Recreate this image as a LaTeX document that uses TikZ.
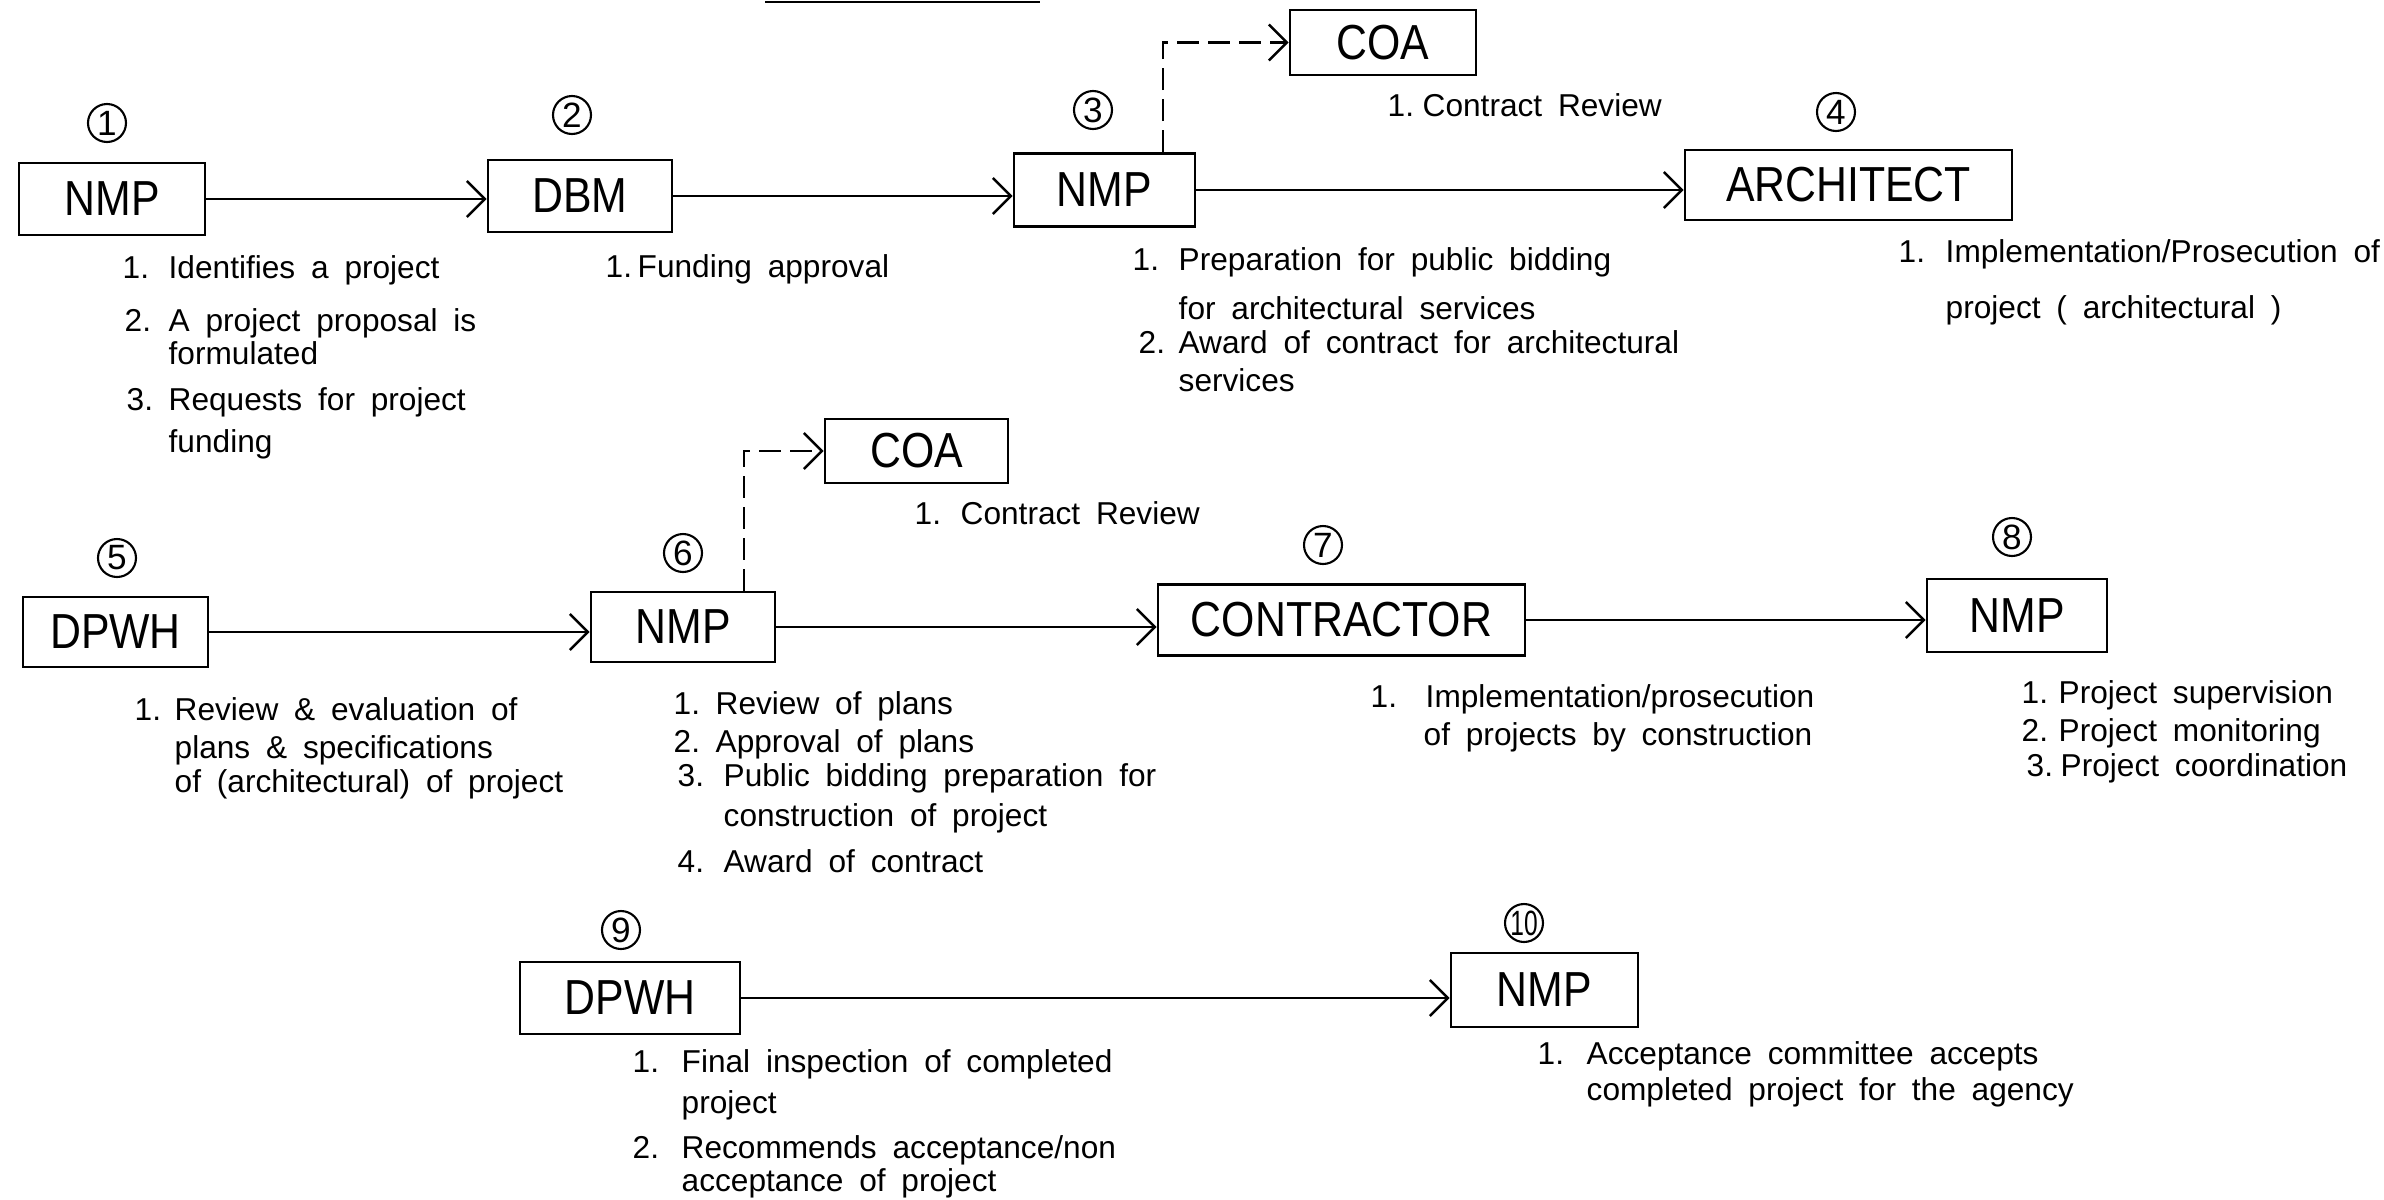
\documentclass[tikz,border=0pt]{standalone}
\usepackage{fontspec}
\setmainfont{Liberation Sans}
\newfontfamily\boxfont[FakeStretch=0.87]{Liberation Sans}
\newfontfamily\narrowfont[FakeStretch=0.7]{Liberation Sans}
\usetikzlibrary{arrows.meta}
\newcommand\bodytxt{\fontsize{9}{11}\selectfont\spaceskip=0.5em plus 0.1em minus 0.1em\relax}
\begin{document}
\begin{tikzpicture}[x=0.1mm,y=-0.1mm,
  box/.style={draw, line width=0.8pt, inner sep=0, font=\boxfont\fontsize{14}{16}\selectfont},
  conn/.style={line width=0.7pt, -{Straight Barb[length=1.8mm,width=3.6mm,line width=0.7pt]}},
  dconn/.style={conn, dash pattern=on 2.2mm off 0.9mm},
  num/.style={draw, circle, line width=0.6pt, minimum size=3.8mm, inner sep=0, font=\fontsize{10}{11}\selectfont},
  txt/.style={anchor=base west, inner sep=0, font=\bodytxt}
]
\useasboundingbox (0,0) rectangle (2384,1199);

% remnant title underline
\draw[line width=0.8pt] (765,2) -- (1040,2);

% ---------- boxes ----------
\node[box, minimum width=18.6mm, minimum height=7.2mm] (b1) at (112,199) {NMP};
\node[box, minimum width=18.4mm, minimum height=7.2mm] (b2) at (580,196) {DBM};
\node[box, minimum width=18.1mm, minimum height=7.3mm] (b3) at (1104.5,190) {NMP};
\node[box, minimum width=18.6mm, minimum height=6.5mm] (coa1) at (1383,42.5) {COA};
\node[box, minimum width=32.7mm, minimum height=7.0mm] (b4) at (1848.5,185) {ARCHITECT};
\node[box, minimum width=18.5mm, minimum height=7.0mm] (b5) at (115.5,632) {DPWH};
\node[box, minimum width=18.4mm, minimum height=7.0mm] (b6) at (683,627) {NMP};
\node[box, minimum width=18.3mm, minimum height=6.4mm] (coa2) at (916.5,451) {COA};
\node[box, minimum width=36.7mm, minimum height=7.1mm] (b7) at (1341.5,620) {CONTRACTOR};
\node[box, minimum width=18.0mm, minimum height=7.3mm] (b8) at (2017,615.5) {NMP};
\node[box, minimum width=22.0mm, minimum height=7.2mm] (b9) at (630,998) {DPWH};
\node[box, minimum width=18.7mm, minimum height=7.4mm] (b10) at (1544.5,990) {NMP};

% ---------- step numbers ----------
\node[num] (c1) at (107,123) {1};
\node[num] (c2) at (572,115) {2};
\node[num] (c3) at (1093,110) {3};
\node[num] (c4) at (1836,112) {4};
\node[num] (c5) at (117,558) {5};
\node[num] (c6) at (683,553) {6};
\node[num] (c7) at (1323,545) {7};
\node[num] (c8) at (2012,537) {8};
\node[num] (c9) at (621,930) {9};
\node[num] (c10) at (1524,923) {\narrowfont 10};

% ---------- connectors ----------
\draw[conn] (b1.east) -- (b1.east -| b2.west);
\draw[conn] (b2.east) -- (b2.east -| b3.west);
\draw[conn] (b3.east) -- (b3.east -| b4.west);
\draw[conn] (b5.east) -- (b5.east -| b6.west);
\draw[conn] (b6.east) -- (b6.east -| b7.west);
\draw[conn] (b7.east) -- (b7.east -| b8.west);
\draw[conn] (b9.east) -- (b9.east -| b10.west);
\coordinate (d3) at (1163,0);
\coordinate (d6) at (744,0);
\draw[dconn] (b3.north -| d3) |- (coa1.west);
\draw[dconn] (b6.north -| d6) |- (coa2.west);

% ---------- texts ----------
% step 1
\node[txt] (t1n1) at (122,278) {1.};
\node[txt] (t1a) at (168,278) {Identifies a project};
\node[txt] (t1n2) at (124,331) {2.};
\node[txt] (t1b) at (168,331) {A project proposal is};
\node[txt] (t1c) at (168,364) {formulated};
\node[txt] (t1n3) at (126,410) {3.};
\node[txt] (t1d) at (168,410) {Requests for project};
\node[txt] (t1e) at (168,452) {funding};
% step 2
\node[txt] (t2n1) at (605,277) {1.};
\node[txt] (t2a) at (637,277) {Funding approval};
% step 3
\node[txt] (t3n1) at (1132,270) {1.};
\node[txt] (t3a) at (1178,270) {Preparation for public bidding};
\node[txt] (t3b) at (1178,319) {for architectural services};
\node[txt] (t3n2) at (1138,353) {2.};
\node[txt] (t3c) at (1178,353) {Award of contract for architectural};
\node[txt] (t3d) at (1178,391) {services};
% COA 1
\node[txt] (k1n) at (1387,116) {1.};
\node[txt] (k1a) at (1422,116) {Contract Review};
% step 4
\node[txt] (t4n1) at (1898,262) {1.};
\node[txt] (t4a) at (1945,262) {Implementation/Prosecution of};
\node[txt] (t4b) at (1945,318) {project ( architectural )};
% COA 2
\node[txt] (k2n) at (914,524) {1.};
\node[txt] (k2a) at (960,524) {Contract Review};
% step 5
\node[txt] (t5n1) at (134,720) {1.};
\node[txt] (t5a) at (174,720) {Review \& evaluation of};
\node[txt] (t5b) at (174,758) {plans \& specifications};
\node[txt] (t5c) at (174,792) {of (architectural) of project};
% step 6
\node[txt] (t6n1) at (673,714) {1.};
\node[txt] (t6a) at (715,714) {Review of plans};
\node[txt] (t6n2) at (673,752) {2.};
\node[txt] (t6b) at (715,752) {Approval of plans};
\node[txt] (t6n3) at (677,786) {3.};
\node[txt] (t6c) at (723,786) {Public bidding preparation for};
\node[txt] (t6d) at (723,826) {construction of project};
\node[txt] (t6n4) at (677,872) {4.};
\node[txt] (t6e) at (723,872) {Award of contract};
% step 7
\node[txt] (t7n1) at (1370,707) {1.};
\node[txt] (t7a) at (1425,707) {Implementation/prosecution};
\node[txt] (t7b) at (1423,745) {of projects by construction};
% step 8
\node[txt] (t8n1) at (2021,703) {1.};
\node[txt] (t8a) at (2058,703) {Project supervision};
\node[txt] (t8n2) at (2021,741) {2.};
\node[txt] (t8b) at (2058,741) {Project monitoring};
\node[txt] (t8n3) at (2026,776) {3.};
\node[txt] (t8c) at (2060,776) {Project coordination};
% step 9
\node[txt] (t9n1) at (632,1072) {1.};
\node[txt] (t9a) at (681,1072) {Final inspection of completed};
\node[txt] (t9b) at (681,1113) {project};
\node[txt] (t9n2) at (632,1158) {2.};
\node[txt] (t9c) at (681,1158) {Recommends acceptance/non};
\node[txt] (t9d) at (681,1191) {acceptance of project};
% step 10
\node[txt] (t10n1) at (1537,1064) {1.};
\node[txt] (t10a) at (1586,1064) {Acceptance committee accepts};
\node[txt] (t10b) at (1586,1100) {completed project for the agency};
\end{tikzpicture}
\end{document}
